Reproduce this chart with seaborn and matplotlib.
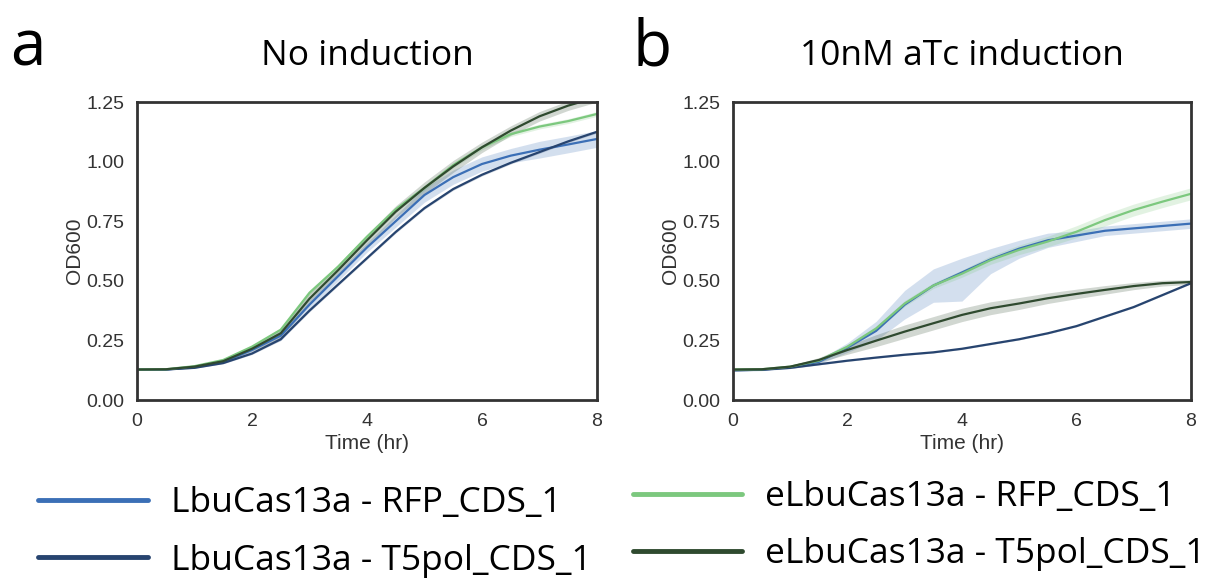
import numpy as np
import matplotlib
matplotlib.use("Agg")
import matplotlib.pyplot as plt
import seaborn as sns
from matplotlib.lines import Line2D

# ---------------- data ----------------
time_hr = [0, 0.5, 1, 1.5, 2, 2.5, 3, 3.5, 4, 4.5, 5, 5.5, 6, 6.5, 7, 7.5, 8]

labels = ["LbuCas13a - RFP_CDS_1", "LbuCas13a - T5pol_CDS_1",
          "eLbuCas13a - RFP_CDS_1", "eLbuCas13a - T5pol_CDS_1"]
colors = ["#3b6fb6", "#27446f", "#7cc87e", "#2f4a2f"]

panel_letters = ["a", "b"]
panel_titles = ["No induction", "10nM aTc induction"]

# Panel a: no induction (mean OD600)
a_lbu_rfp   = [0.128, 0.128, 0.138, 0.160, 0.210, 0.270, 0.400, 0.520, 0.640, 0.750, 0.860, 0.935, 0.990, 1.025, 1.050, 1.072, 1.095]
a_lbu_t5    = [0.127, 0.128, 0.135, 0.155, 0.195, 0.255, 0.375, 0.485, 0.595, 0.705, 0.805, 0.885, 0.945, 0.995, 1.040, 1.085, 1.125]
a_elbu_rfp  = [0.128, 0.129, 0.142, 0.168, 0.224, 0.295, 0.450, 0.560, 0.685, 0.800, 0.890, 0.985, 1.060, 1.115, 1.147, 1.170, 1.200]
a_elbu_t5   = [0.128, 0.129, 0.140, 0.163, 0.215, 0.280, 0.425, 0.545, 0.670, 0.790, 0.890, 0.980, 1.060, 1.130, 1.190, 1.235, 1.270]
# band half-widths (panel a)
a_lbu_rfp_err  = [0.003, 0.003, 0.004, 0.006, 0.010, 0.020, 0.020, 0.020, 0.020, 0.025, 0.030, 0.030, 0.030, 0.030, 0.035, 0.035, 0.035]
a_lbu_t5_err   = [0.002, 0.002, 0.002, 0.003, 0.004, 0.005, 0.005, 0.005, 0.005, 0.005, 0.005, 0.005, 0.005, 0.005, 0.005, 0.005, 0.005]
a_elbu_rfp_err = [0.002, 0.002, 0.003, 0.004, 0.006, 0.008, 0.010, 0.010, 0.010, 0.010, 0.010, 0.010, 0.010, 0.010, 0.010, 0.010, 0.010]
a_elbu_t5_err  = [0.003, 0.003, 0.004, 0.006, 0.010, 0.020, 0.025, 0.025, 0.025, 0.025, 0.025, 0.025, 0.022, 0.020, 0.020, 0.020, 0.020]

# Panel b: 10nM aTc induction (mean OD600)
b_lbu_rfp   = [0.125, 0.127, 0.138, 0.160, 0.220, 0.290, 0.400, 0.480, 0.535, 0.590, 0.635, 0.670, 0.690, 0.710, 0.720, 0.730, 0.740]
b_lbu_t5    = [0.125, 0.127, 0.135, 0.150, 0.165, 0.178, 0.190, 0.200, 0.215, 0.235, 0.255, 0.280, 0.310, 0.350, 0.390, 0.440, 0.490]
b_elbu_rfp  = [0.128, 0.129, 0.140, 0.165, 0.224, 0.300, 0.405, 0.480, 0.530, 0.587, 0.630, 0.665, 0.706, 0.755, 0.797, 0.832, 0.865]
b_elbu_t5   = [0.128, 0.129, 0.140, 0.168, 0.210, 0.249, 0.287, 0.322, 0.357, 0.385, 0.405, 0.427, 0.445, 0.462, 0.478, 0.490, 0.495]
# band half-widths (panel b): lower / upper
b_lbu_rfp_lo  = [0.004, 0.004, 0.006, 0.010, 0.020, 0.040, 0.060, 0.070, 0.120, 0.060, 0.040, 0.030, 0.025, 0.020, 0.020, 0.020, 0.020]
b_lbu_rfp_hi  = [0.004, 0.004, 0.006, 0.010, 0.020, 0.040, 0.060, 0.070, 0.060, 0.045, 0.035, 0.030, 0.020, 0.020, 0.020, 0.020, 0.020]
b_lbu_t5_err  = [0.003, 0.003, 0.003, 0.003, 0.003, 0.003, 0.003, 0.003, 0.003, 0.003, 0.003, 0.003, 0.003, 0.003, 0.003, 0.003, 0.003]
b_elbu_rfp_err = [0.003, 0.003, 0.004, 0.006, 0.008, 0.010, 0.012, 0.012, 0.015, 0.018, 0.020, 0.022, 0.025, 0.025, 0.025, 0.025, 0.025]
b_elbu_t5_err = [0.003, 0.003, 0.005, 0.010, 0.018, 0.025, 0.028, 0.028, 0.028, 0.027, 0.025, 0.022, 0.020, 0.018, 0.015, 0.012, 0.010]

# ---------------- style ----------------
sns.set_theme(style="white")
plt.rcParams["font.family"] = ["Liberation Sans", "DejaVu Sans"]
title_font = ["Liberation Sans Narrow", "Open Sans", "DejaVu Sans"]

fig = plt.figure(figsize=(12.19, 5.81), dpi=100)
ax_a = fig.add_axes([0.1124, 0.3115, 0.3773, 0.5129])
ax_b = fig.add_axes([0.6013, 0.3115, 0.3757, 0.5129])

t = np.array(time_hr)


def draw(ax, means, lows, highs):
    for m, lo, hi, c in zip(means, lows, highs, colors):
        m = np.array(m)
        ax.fill_between(t, m - np.array(lo), m + np.array(hi), color=c, alpha=0.22, linewidth=0)
        sns.lineplot(x=t, y=m, color=c, linewidth=1.6, ax=ax)
    ax.set_xlim(0, 8)
    ax.set_ylim(0, 1.25)
    ax.set_xticks([0, 2, 4, 6, 8])
    ax.set_yticks([0, 0.25, 0.5, 0.75, 1.0, 1.25])
    ax.set_yticklabels(["0.00", "0.25", "0.50", "0.75", "1.00", "1.25"])
    ax.tick_params(labelsize=14, colors="#333333", pad=3)
    ax.set_xlabel("Time (hr)", fontsize=15, color="#333333", labelpad=3)
    ax.set_ylabel("OD600", fontsize=15, color="#333333", labelpad=2)
    for s in ax.spines.values():
        s.set_color("#333333")
        s.set_linewidth(2)


draw(ax_a, [a_lbu_rfp, a_lbu_t5, a_elbu_rfp, a_elbu_t5],
     [a_lbu_rfp_err, a_lbu_t5_err, a_elbu_rfp_err, a_elbu_t5_err],
     [a_lbu_rfp_err, a_lbu_t5_err, a_elbu_rfp_err, a_elbu_t5_err])
draw(ax_b, [b_lbu_rfp, b_lbu_t5, b_elbu_rfp, b_elbu_t5],
     [b_lbu_rfp_lo, b_lbu_t5_err, b_elbu_rfp_err, b_elbu_t5_err],
     [b_lbu_rfp_hi, b_lbu_t5_err, b_elbu_rfp_err, b_elbu_t5_err])

for ax, ttl, letter, lx in zip([ax_a, ax_b], panel_titles, panel_letters, [0.008, 0.519]):
    pos = ax.get_position()
    fig.text(pos.x0 + pos.width / 2, 0.888, ttl,
             fontsize=25.5, family=title_font, color="black", ha="center", va="baseline")
    fig.text(lx, 0.888, letter, fontsize=46, family=title_font, color="black", va="baseline")

handles = [Line2D([0], [0], color=c, linewidth=3.5, solid_capstyle="round") for c in colors]
leg_kw = dict(frameon=False, prop={"family": title_font, "size": 25.5},
              handlelength=3.1, handletextpad=0.65, labelspacing=0.66,
              borderpad=0, borderaxespad=0, labelcolor="black")
leg1 = fig.legend(handles[:2], labels[:2], loc="upper left", bbox_to_anchor=(0.031, 0.163), **leg_kw)
leg2 = fig.legend(handles[2:], labels[2:], loc="upper left", bbox_to_anchor=(0.519, 0.174), **leg_kw)

fig.savefig("out.png", dpi=100)
